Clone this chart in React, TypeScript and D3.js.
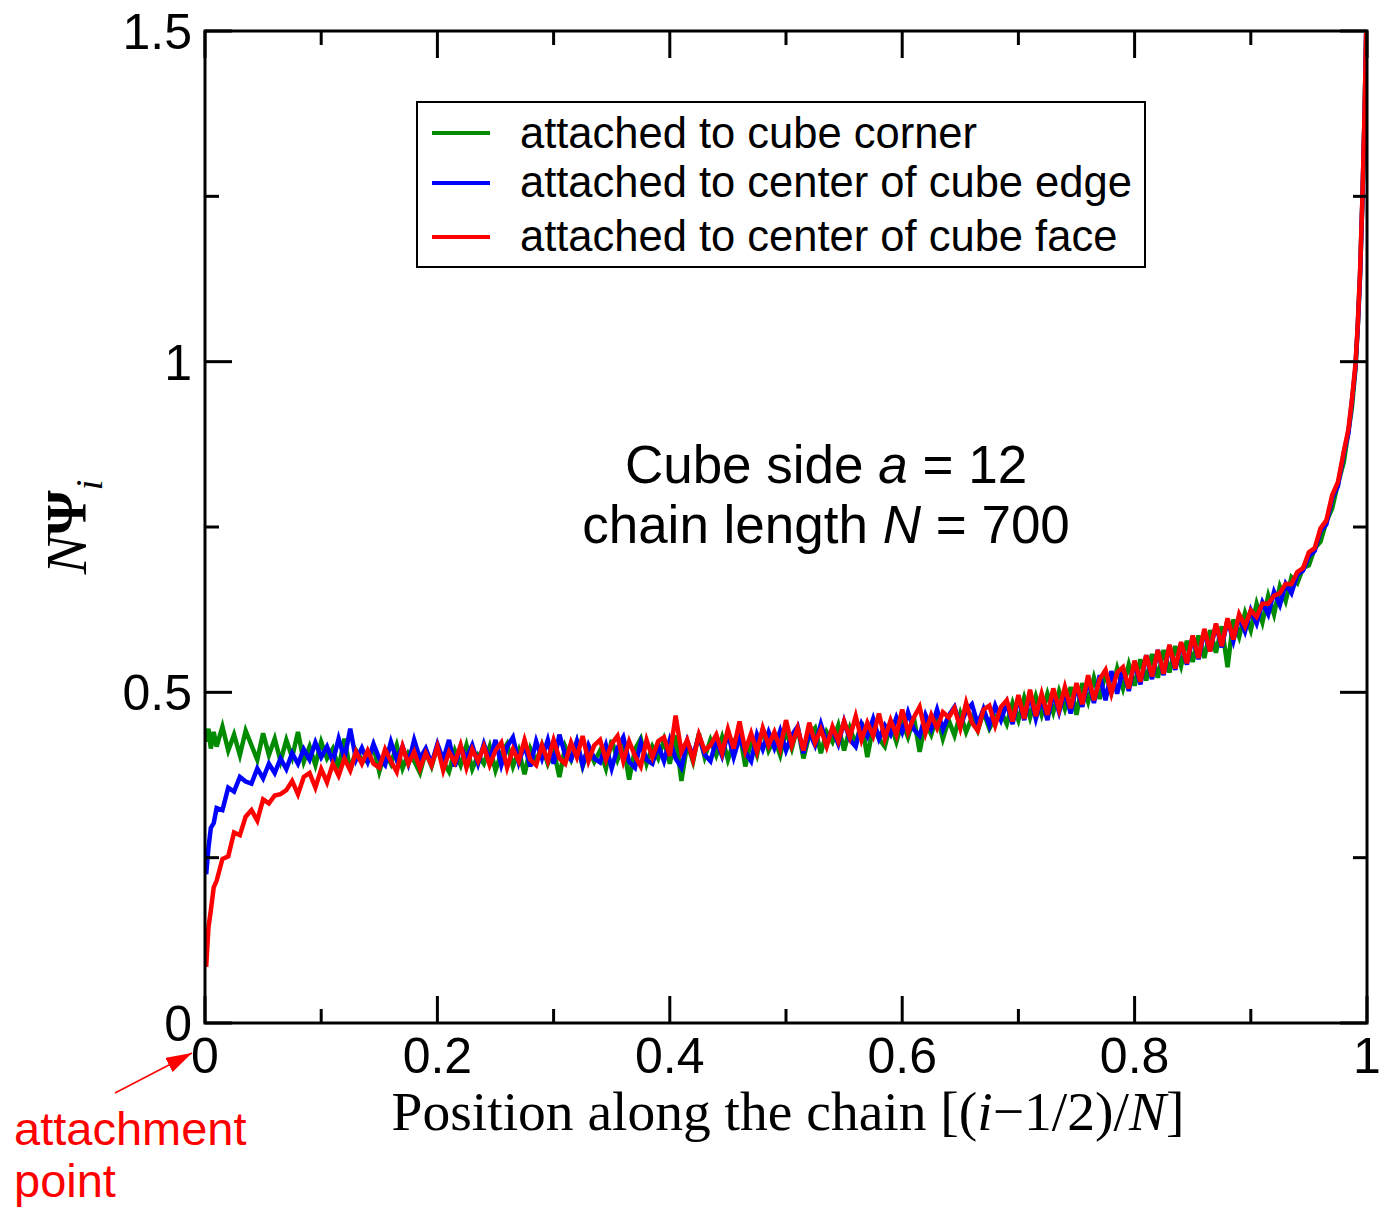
import React from "react";
import * as d3 from "d3";

// chain position (i-1/2)/N, sampled
const positions = [
  0.001, 0.003, 0.005, 0.0075, 0.01, 0.015, 0.02, 0.025, 0.03, 0.035,
  0.04, 0.045, 0.05, 0.055, 0.06, 0.065, 0.07, 0.075, 0.08, 0.085,
  0.09, 0.095, 0.1, 0.105, 0.11, 0.115, 0.12, 0.125, 0.13, 0.135,
  0.14, 0.145, 0.15, 0.155, 0.16, 0.165, 0.17, 0.175, 0.18, 0.185,
  0.19, 0.195, 0.2, 0.205, 0.21, 0.215, 0.22, 0.225, 0.23, 0.235,
  0.24, 0.245, 0.25, 0.255, 0.26, 0.265, 0.27, 0.275, 0.28, 0.285,
  0.29, 0.295, 0.3, 0.305, 0.31, 0.315, 0.32, 0.325, 0.33, 0.335,
  0.34, 0.345, 0.35, 0.355, 0.36, 0.365, 0.37, 0.375, 0.38, 0.385,
  0.39, 0.395, 0.4, 0.405, 0.41, 0.415, 0.42, 0.425, 0.43, 0.435,
  0.44, 0.445, 0.45, 0.455, 0.46, 0.465, 0.47, 0.475, 0.48, 0.485,
  0.49, 0.495, 0.5, 0.505, 0.51, 0.515, 0.52, 0.525, 0.53, 0.535,
  0.54, 0.545, 0.55, 0.555, 0.56, 0.565, 0.57, 0.575, 0.58, 0.585,
  0.59, 0.595, 0.6, 0.605, 0.61, 0.615, 0.62, 0.625, 0.63, 0.635,
  0.64, 0.645, 0.65, 0.655, 0.66, 0.665, 0.67, 0.675, 0.68, 0.685,
  0.69, 0.695, 0.7, 0.705, 0.71, 0.715, 0.72, 0.725, 0.73, 0.735,
  0.74, 0.745, 0.75, 0.755, 0.76, 0.765, 0.77, 0.775, 0.78, 0.785,
  0.79, 0.795, 0.8, 0.805, 0.81, 0.815, 0.82, 0.825, 0.83, 0.835,
  0.84, 0.845, 0.85, 0.855, 0.86, 0.865, 0.87, 0.875, 0.88, 0.885,
  0.89, 0.895, 0.9, 0.905, 0.91, 0.915, 0.92, 0.925, 0.93, 0.935,
  0.94, 0.945, 0.95, 0.955, 0.96, 0.965, 0.97, 0.975, 0.98, 0.984,
  0.987, 0.99, 0.992, 0.994, 0.996, 0.998, 0.9993,
];

// attached to cube corner
const cornerValues = [
  0.425, 0.445, 0.415, 0.44, 0.418, 0.448, 0.412, 0.436, 0.405, 0.442,
  0.42, 0.398, 0.438, 0.405, 0.43, 0.396, 0.428, 0.402, 0.44, 0.395,
  0.418, 0.39, 0.425, 0.4, 0.415, 0.385, 0.43, 0.382, 0.412, 0.398,
  0.395, 0.418, 0.38, 0.41, 0.392, 0.42, 0.385, 0.408, 0.396, 0.378,
  0.41, 0.388, 0.418, 0.395, 0.38, 0.412, 0.39, 0.42, 0.384, 0.405,
  0.392, 0.418, 0.382, 0.408, 0.422, 0.388, 0.412, 0.376, 0.415, 0.395,
  0.42, 0.392, 0.412, 0.372, 0.418, 0.398, 0.425, 0.388, 0.414, 0.395,
  0.412, 0.385, 0.428, 0.398, 0.42, 0.368, 0.414, 0.43, 0.392, 0.418,
  0.4, 0.428, 0.392, 0.435, 0.366, 0.422, 0.395, 0.438, 0.402, 0.428,
  0.405, 0.432, 0.398, 0.425, 0.44, 0.388, 0.428, 0.405, 0.445, 0.412,
  0.43, 0.405, 0.442, 0.415, 0.448, 0.4, 0.435, 0.446, 0.408, 0.44,
  0.425, 0.45, 0.412, 0.446, 0.422, 0.455, 0.402, 0.448, 0.43, 0.418,
  0.452, 0.425, 0.455, 0.432, 0.462, 0.41, 0.455, 0.436, 0.465, 0.43,
  0.458, 0.435, 0.468, 0.44, 0.462, 0.442, 0.47, 0.445, 0.462, 0.472,
  0.452, 0.484, 0.458, 0.492, 0.462, 0.494, 0.466, 0.498, 0.47, 0.502,
  0.475, 0.508, 0.466, 0.514, 0.486, 0.522, 0.49, 0.53, 0.5, 0.536,
  0.506, 0.542, 0.51, 0.55, 0.518, 0.558, 0.522, 0.564, 0.53, 0.57,
  0.54, 0.578, 0.546, 0.586, 0.552, 0.594, 0.56, 0.6, 0.538, 0.61,
  0.584, 0.62, 0.594, 0.634, 0.606, 0.646, 0.618, 0.66, 0.638, 0.674,
  0.665, 0.688, 0.692, 0.718, 0.728, 0.758, 0.778, 0.816, 0.848, 0.895,
  0.93, 0.988, 1.05, 1.13, 1.24, 1.38, 1.5,
];

// attached to center of cube edge
const edgeValues = [
  0.225, 0.265, 0.295, 0.302, 0.325, 0.322, 0.356, 0.35, 0.372, 0.365,
  0.362, 0.385, 0.37, 0.392, 0.378, 0.4, 0.384, 0.408, 0.392, 0.414,
  0.398, 0.424, 0.402, 0.418, 0.395, 0.43, 0.4, 0.445, 0.398, 0.416,
  0.395, 0.422, 0.4, 0.39, 0.425, 0.398, 0.418, 0.392, 0.428, 0.4,
  0.415, 0.392, 0.422, 0.398, 0.428, 0.388, 0.418, 0.4, 0.42, 0.392,
  0.422, 0.396, 0.428, 0.39, 0.418, 0.432, 0.394, 0.42, 0.388, 0.426,
  0.4, 0.428, 0.392, 0.436, 0.405, 0.398, 0.426, 0.39, 0.42, 0.4,
  0.394, 0.42, 0.385, 0.416, 0.432, 0.395, 0.386, 0.424, 0.398, 0.392,
  0.42, 0.396, 0.428, 0.4, 0.386, 0.426, 0.404, 0.434, 0.406, 0.396,
  0.428, 0.404, 0.438, 0.402, 0.432, 0.41, 0.396, 0.436, 0.414, 0.44,
  0.416, 0.442, 0.412, 0.435, 0.448, 0.408, 0.44, 0.42, 0.452, 0.424,
  0.444, 0.422, 0.456, 0.428, 0.418, 0.452, 0.434, 0.46, 0.43, 0.45,
  0.436, 0.462, 0.44, 0.47, 0.444, 0.434, 0.466, 0.445, 0.474, 0.444,
  0.465, 0.478, 0.448, 0.472, 0.482, 0.452, 0.475, 0.45, 0.48, 0.458,
  0.484, 0.452, 0.492, 0.458, 0.496, 0.46, 0.492, 0.458, 0.5, 0.47,
  0.502, 0.468, 0.51, 0.478, 0.52, 0.484, 0.526, 0.488, 0.532, 0.498,
  0.536, 0.502, 0.546, 0.512, 0.556, 0.52, 0.564, 0.526, 0.57, 0.534,
  0.574, 0.542, 0.584, 0.55, 0.592, 0.562, 0.602, 0.568, 0.61, 0.578,
  0.614, 0.592, 0.624, 0.604, 0.636, 0.618, 0.652, 0.632, 0.664, 0.65,
  0.678, 0.684, 0.706, 0.714, 0.744, 0.754, 0.794, 0.812, 0.862, 0.892,
  0.94, 0.99, 1.052, 1.128, 1.242, 1.378, 1.5,
];

// attached to center of cube face
const faceValues = [
  0.085, 0.145, 0.17, 0.205, 0.215, 0.248, 0.252, 0.288, 0.284, 0.312,
  0.322, 0.306, 0.338, 0.332, 0.344, 0.346, 0.352, 0.366, 0.346, 0.372,
  0.378, 0.356, 0.384, 0.364, 0.392, 0.374, 0.4, 0.382, 0.41, 0.392,
  0.412, 0.392, 0.386, 0.414, 0.396, 0.38, 0.418, 0.392, 0.41, 0.385,
  0.408, 0.39, 0.418, 0.382, 0.41, 0.394, 0.42, 0.386, 0.414, 0.396,
  0.418, 0.39, 0.412, 0.424, 0.386, 0.414, 0.396, 0.428, 0.398, 0.39,
  0.42, 0.396, 0.428, 0.4, 0.392, 0.424, 0.402, 0.434, 0.396, 0.42,
  0.428, 0.398, 0.422, 0.434, 0.396, 0.426, 0.404, 0.388, 0.428, 0.402,
  0.426, 0.432, 0.404, 0.465, 0.41, 0.428, 0.398, 0.436, 0.412, 0.42,
  0.436, 0.408, 0.444, 0.415, 0.456, 0.412, 0.438, 0.41, 0.446, 0.42,
  0.44, 0.415, 0.458, 0.42, 0.446, 0.412, 0.454, 0.424, 0.444, 0.418,
  0.448, 0.426, 0.456, 0.432, 0.464, 0.428, 0.454, 0.434, 0.468, 0.43,
  0.458, 0.436, 0.474, 0.44, 0.462, 0.478, 0.438, 0.466, 0.446, 0.47,
  0.462, 0.476, 0.446, 0.484, 0.454, 0.442, 0.474, 0.48, 0.45, 0.478,
  0.488, 0.456, 0.496, 0.46, 0.504, 0.464, 0.498, 0.466, 0.506, 0.474,
  0.508, 0.476, 0.514, 0.482, 0.526, 0.488, 0.52, 0.534, 0.498, 0.53,
  0.538, 0.506, 0.548, 0.516, 0.556, 0.524, 0.564, 0.528, 0.572, 0.536,
  0.576, 0.544, 0.586, 0.552, 0.596, 0.562, 0.604, 0.57, 0.612, 0.58,
  0.618, 0.6, 0.624, 0.614, 0.634, 0.634, 0.646, 0.65, 0.664, 0.664,
  0.682, 0.688, 0.712, 0.718, 0.748, 0.76, 0.798, 0.818, 0.864, 0.898,
  0.942, 0.995, 1.055, 1.135, 1.245, 1.385, 1.5,
];

const seriesNames = [
  "attached to cube corner",
  "attached to center of cube edge",
  "attached to center of cube face",
];
const seriesValues = [cornerValues, edgeValues, faceValues];
const colors = ["#008b00", "#0000ff", "#ff0000"];

const xTicks = [0, 0.2, 0.4, 0.6, 0.8, 1];
const xMinorTicks = [0.1, 0.3, 0.5, 0.7, 0.9];
const yTicks = [0, 0.5, 1, 1.5];
const yMinorTicks = [0.25, 0.75, 1.25];

const W = 1387;
const H = 1207;
const margin = { top: 31, right: 20, bottom: 184, left: 205 };
const sans = "'Liberation Sans', Arial, Helvetica, sans-serif";
const serif = "'Liberation Serif', 'Times New Roman', serif";

export default function App() {
  const x = d3.scaleLinear().domain([0, 1]).range([margin.left, W - margin.right]);
  const y = d3.scaleLinear().domain([0, 1.5]).range([H - margin.bottom, margin.top]);
  const [x0, x1] = x.range();
  const [y0, y1] = y.range();

  const line = d3
    .line<number>()
    .x((_, i) => x(positions[i]))
    .y((d) => y(d));

  const major = 27;
  const minor = 14;
  const legendY = [133, 183, 237];
  const legendBase = [148, 197, 251];

  return (
    <svg width={W} height={H} style={{ position: "absolute", left: 0, top: 0, background: "#fff" }}>
      <defs>
        <clipPath id="plot">
          <rect x={x0} y={y1} width={x1 - x0} height={y0 - y1} />
        </clipPath>
        <marker id="arrow" viewBox="0 0 26 16" refX="26" refY="8" markerWidth="26" markerHeight="16" markerUnits="userSpaceOnUse" orient="auto">
          <path d="M0,0 L26,8 L0,16 z" fill="#ff0000" />
        </marker>
      </defs>

      <g clipPath="url(#plot)" fill="none">
        {seriesValues.map((vals, k) => (
          <path key={k} d={line(vals) || ""} stroke={colors[k]} strokeWidth={4.5} />
        ))}
      </g>

      {/* ticks */}
      <g stroke="#000" strokeWidth={3}>
        {xTicks.map((t) => (
          <g key={"xt" + t}>
            <line x1={x(t)} x2={x(t)} y1={y0} y2={y0 - major} />
            <line x1={x(t)} x2={x(t)} y1={y1} y2={y1 + major} />
          </g>
        ))}
        {xMinorTicks.map((t) => (
          <g key={"xm" + t}>
            <line x1={x(t)} x2={x(t)} y1={y0} y2={y0 - minor} />
            <line x1={x(t)} x2={x(t)} y1={y1} y2={y1 + minor} />
          </g>
        ))}
        {yTicks.map((t) => (
          <g key={"yt" + t}>
            <line x1={x0} x2={x0 + major} y1={y(t)} y2={y(t)} />
            <line x1={x1} x2={x1 - major} y1={y(t)} y2={y(t)} />
          </g>
        ))}
        {yMinorTicks.map((t) => (
          <g key={"ym" + t}>
            <line x1={x0} x2={x0 + minor} y1={y(t)} y2={y(t)} />
            <line x1={x1} x2={x1 - minor} y1={y(t)} y2={y(t)} />
          </g>
        ))}
        <rect x={x0} y={y1} width={x1 - x0} height={y0 - y1} fill="none" />
      </g>

      {/* tick labels */}
      <g fontFamily={sans} fontSize={50} fill="#000">
        {xTicks.map((t) => (
          <text key={"xl" + t} x={x(t)} y={y0 + 50} textAnchor="middle">
            {String(t)}
          </text>
        ))}
        {yTicks.map((t) => (
          <text key={"yl" + t} x={x0 - 13} y={y(t) + 18} textAnchor="end">
            {String(t)}
          </text>
        ))}
      </g>

      {/* axis titles */}
      <text x={(x0 + x1) / 2 + 2} y={1130} textAnchor="middle" fontFamily={serif} fontSize={55.5}>
        Position along the chain [(<tspan fontStyle="italic">i</tspan>−1/2)/<tspan fontStyle="italic">N</tspan>]
      </text>
      <text transform={`translate(86, ${(y0 + y1) / 2}) rotate(-90)`} textAnchor="middle" fontFamily={serif} fontSize={58}>
        <tspan fontStyle="italic">N</tspan>
        <tspan fontWeight="bold">Ψ</tspan>
        <tspan fontStyle="italic" fontSize={38} dy={16}>i</tspan>
      </text>

      {/* legend */}
      <rect x={417} y={102} width={728} height={165} fill="#fff" stroke="#000" strokeWidth={2} />
      {seriesNames.map((name, k) => (
        <g key={name}>
          <line x1={432} x2={490} y1={legendY[k]} y2={legendY[k]} stroke={colors[k]} strokeWidth={4} />
          <text x={520} y={legendBase[k]} fontFamily={sans} fontSize={43.5}>
            {name}
          </text>
        </g>
      ))}

      {/* annotation */}
      <g fontFamily={sans} fontSize={53} textAnchor="middle">
        <text x={826} y={483}>
          Cube side <tspan fontStyle="italic">a</tspan> = 12
        </text>
        <text x={826} y={543}>
          chain length <tspan fontStyle="italic">N</tspan> = 700
        </text>
      </g>

      {/* attachment point */}
      <line x1={115} y1={1093} x2={192} y2={1053} stroke="#ff0000" strokeWidth={1.5} markerEnd="url(#arrow)" />
      <g fontFamily={sans} fontSize={47} fill="#ff0000">
        <text x={14} y={1145}>attachment</text>
        <text x={14} y={1197}>point</text>
      </g>
    </svg>
  );
}
